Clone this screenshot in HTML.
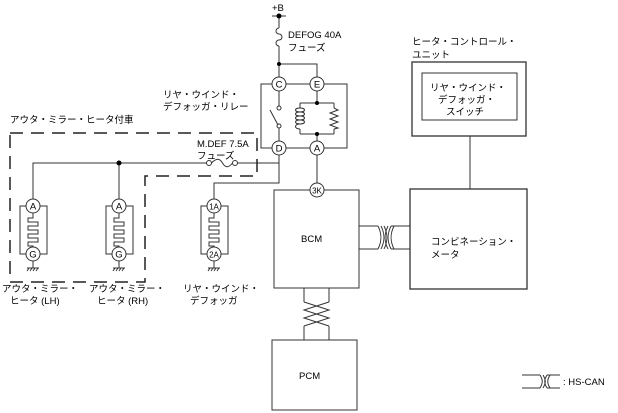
<!DOCTYPE html>
<html><head><meta charset="utf-8"><style>
html,body{margin:0;padding:0;background:#fff}
svg{display:block}
text{font-family:"Liberation Sans","Noto Sans CJK JP",sans-serif;font-size:9.5px;fill:#000}
</style></head><body>
<svg width="618" height="413" viewBox="0 0 618 413" xmlns="http://www.w3.org/2000/svg">
<g fill="none" stroke="#333" stroke-width="1">
<!-- +B & fuse -->
<line x1="272" y1="16" x2="286" y2="16"/>
<line x1="279" y1="16" x2="279" y2="28"/>
<path d="M279,28 a3,3 0 1 0 0,6 a3,3 0 1 1 0,6 a3,3 0 1 0 0,6"/>
<line x1="279" y1="46" x2="279" y2="77"/>
<path d="M279,64 H317 V77"/>
<!-- relay box -->
<rect x="261" y="84" width="86" height="64"/>
<!-- switch -->
<line x1="279" y1="91" x2="279" y2="106"/>
<circle cx="279" cy="108" r="2" fill="#fff"/>
<circle cx="279" cy="126" r="2" fill="#fff"/>
<line x1="278" y1="125" x2="270" y2="110"/>
<line x1="279" y1="128" x2="279" y2="141"/>
<!-- coil & resistor -->
<line x1="317" y1="91" x2="317" y2="103"/>
<path d="M300,103 H334 M300,134 H334 M300,103 V108 M300,129 V134 M334,103 V108 M334,129 V134"/>
<path d="M300,108 c-6,0 -6,4 0,4 c6,0 6,-4 0,-4 M300,112 c-6,0 -6,4 0,4 c6,0 6,-4 0,-4 M300,116 c-6,0 -6,4 0,4 c6,0 6,-4 0,-4 M300,120 c-6,0 -6,4 0,4 c6,0 6,-4 0,-4 M300,124 c-6,0 -6,5 0,5"/>
<path d="M334,108 l4,2 l-8,3 l8,3 l-8,3 l8,3 l-8,3 l8,3 l-4,1"/>
<line x1="317" y1="134" x2="317" y2="141"/>
<!-- D wiring -->
<path d="M279,155 V183 H214 V199"/>
<path d="M237,163 H279"/>
<path d="M33,199 V163 H207"/>
<line x1="119" y1="163" x2="119" y2="199"/>
<!-- fuse 7.5 -->
<circle cx="209" cy="163" r="2.5"/>
<circle cx="235" cy="163" r="2.5"/>
<path d="M211.5,163 c5,-5 8,-5 11,0 c3,5 6,5 10,0"/>
<!-- A to 3K -->
<line x1="317" y1="155" x2="317" y2="183"/>
<!-- BCM -->
<rect x="274" y="190" width="85" height="98"/>
<rect x="272" y="340" width="85" height="70"/>
<path d="M304,288 V302 M329,288 V302 M304,302 L329,310 L304,318 L329,326 M329,302 L304,310 L329,318 L304,326 M304,326 V340 M329,326 V340"/>
<path d="M359,226 H378 M359,249 H378 M378,226 C382,234 382,241 378,249 M381,226 C385,234 385,241 381,249 M384,226 C388,234 388,241 384,249 M388,226 C384,234 384,241 388,249 M391,226 C387,234 387,241 391,249 M394,226 C390,234 390,241 394,249 M391,226 H410 M391,249 H410"/>
<rect x="410" y="189" width="117" height="100" stroke-width="1.3"/>
<rect x="412" y="62" width="114" height="74" stroke-width="1.3"/>
<rect x="422" y="73" width="95" height="47"/>
<line x1="470" y1="136" x2="470" y2="189"/>
<!-- dashed box -->
<path d="M10,133 H257 V176 H145 V282 H10 Z" stroke="#222" stroke-width="1.5" stroke-dasharray="13,8"/>
<!-- heaters -->
<g id="h">
<rect x="20" y="206" width="27" height="48"/>
<path d="M33,213 V218 H28 V222 H38 V226 H28 V230 H38 V234 H28 V238 H38 V242 H28 V246 H33 V247"/>
<line x1="33" y1="261" x2="33" y2="268"/>
<path d="M27,268 H39 M29,268 l-2,3 M32,268 l-2,3 M35,268 l-2,3 M38,268 l-2,3"/>
</g>
<use href="#h" x="86"/>
<use href="#h" x="181"/>
<!-- legend -->
<path d="M522,375 H540 M522,388 H540 M540,375 C543,380 543,383 540,388 M543,375 C546,380 546,383 543,388 M547,375 C544,380 544,383 547,388 M550,375 C547,380 547,383 550,388 M547,375 H560 M547,388 H560"/>
</g>
<g fill="#000">
<circle cx="279" cy="16" r="2.5"/><circle cx="279" cy="64" r="2"/>
<circle cx="317" cy="103" r="2"/><circle cx="317" cy="134" r="2"/>
<circle cx="119" cy="163" r="2.5"/>
</g>
<g fill="#fff" stroke="#333">
<circle cx="279" cy="84" r="7"/><circle cx="317" cy="84" r="7"/>
<circle cx="279" cy="148" r="7"/><circle cx="317" cy="148" r="7"/>
<circle cx="317" cy="190" r="7"/>
<circle cx="33" cy="206" r="7"/><circle cx="33" cy="254" r="7"/>
<circle cx="119" cy="206" r="7"/><circle cx="119" cy="254" r="7"/>
<circle cx="214" cy="206" r="7"/><circle cx="214" cy="254" r="7"/>
</g>
<g text-anchor="middle" style="font-size:9px">
<text x="279" y="87.5">C</text><text x="317" y="87.5">E</text>
<text x="279" y="151.5">D</text><text x="317" y="151.5">A</text>
<text x="317" y="193.5" style="font-size:8px">3K</text>
<text x="33" y="209.5">A</text><text x="33" y="257.5">G</text>
<text x="119" y="209.5">A</text><text x="119" y="257.5">G</text>
<text x="214" y="209.5" style="font-size:8px">1A</text><text x="214" y="257.5" style="font-size:8px">2A</text>
</g>
<text x="272" y="11">+B</text>
<text x="288" y="38">DEFOG 40A</text>
<text x="288" y="51">フューズ</text>
<text x="163" y="98">リヤ・ウインド・</text>
<text x="163" y="110">デフォッガ・リレー</text>
<text x="10" y="123">アウタ・ミラー・ヒータ付車</text>
<text x="197" y="147">M.DEF 7.5A</text>
<text x="197" y="159">フューズ</text>
<text x="412" y="45">ヒータ・コントロール・</text>
<text x="412" y="58">ユニット</text>
<text x="430" y="91">リヤ・ウインド・</text>
<text x="438" y="103">デフォッガ・</text>
<text x="446" y="115">スイッチ</text>
<text x="301" y="242">BCM</text>
<text x="299" y="379">PCM</text>
<text x="431" y="245">コンビネーション・</text>
<text x="431" y="258">メータ</text>
<text x="2" y="292">アウタ・ミラー・</text>
<text x="10" y="304">ヒータ (LH)</text>
<text x="89" y="292">アウタ・ミラー・</text>
<text x="97" y="304">ヒータ (RH)</text>
<text x="183" y="292">リヤ・ウインド・</text>
<text x="190" y="304">デフォッガ</text>
<text x="563" y="385">: HS-CAN</text>
</svg>
</body></html>
